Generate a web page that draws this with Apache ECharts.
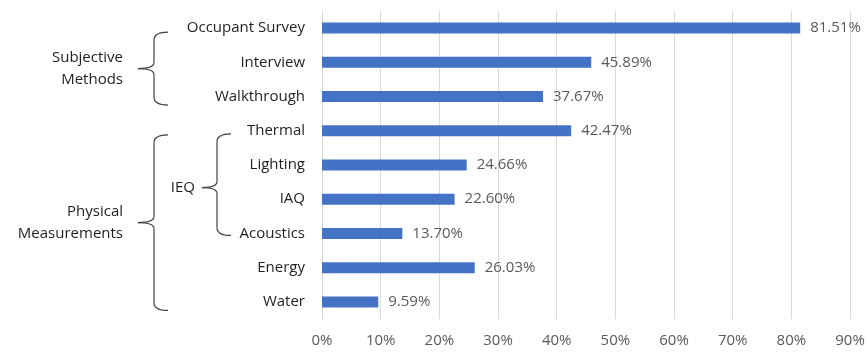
<!DOCTYPE html>
<html>
<head>
<meta charset="utf-8">
<script src="https://cdn.jsdelivr.net/npm/echarts@6/dist/echarts.min.js"></script>
<style>
html,body{margin:0;padding:0;background:#fff;}
#chart{width:868px;height:352px;}
</style>
</head>
<body>
<div id="chart"></div>
<script>
const categories = ["Occupant Survey", "Interview", "Walkthrough", "Thermal", "Lighting", "IAQ", "Acoustics", "Energy", "Water"];
const values = [81.51, 45.89, 37.67, 42.47, 24.66, 22.60, 13.70, 26.03, 9.59];
const xTicks = [0, 10, 20, 30, 40, 50, 60, 70, 80, 90];
const groups = [
  {label: "Subjective\nMethods", from: "Occupant Survey", to: "Walkthrough", level: 0},
  {label: "Physical\nMeasurements", from: "Thermal", to: "Water", level: 0},
  {label: "IEQ", from: "Thermal", to: "Acoustics", level: 1}
];

const FONT = "Open Sans";
const chart = echarts.init(document.getElementById('chart'));
chart.setOption({
  animation: false,
  backgroundColor: '#ffffff',
  grid: {left: 322, right: 18, top: 11, bottom: 33},
  xAxis: {
    type: 'value', min: xTicks[0], max: xTicks[xTicks.length - 1], interval: 10,
    axisLine: {show: false}, axisTick: {show: false},
    splitLine: {lineStyle: {color: '#d9d9d9', width: 1}},
    axisLabel: {formatter: '{value}%', color: '#595959', fontFamily: FONT, fontSize: 15, margin: 14}
  },
  yAxis: {
    type: 'category', data: categories, inverse: true,
    axisLine: {lineStyle: {color: '#d9d9d9'}}, axisTick: {show: false},
    axisLabel: {color: '#1f1f1f', fontFamily: FONT, fontSize: 15, margin: 17}
  },
  series: [{
    type: 'bar', data: values, barWidth: 11,
    itemStyle: {color: '#4472C4'},
    label: {show: true, position: 'right', distance: 10, formatter: p => p.value.toFixed(2) + '%',
      color: '#595959', fontFamily: FONT, fontSize: 15}
  }]
});

// brackets placed from the category axis positions
const els = [];
const st = {stroke: '#404040', lineWidth: 1.2, fill: null};
function curve(x1, y1, cx, cy, x2, y2) {
  els.push({type: 'bezierCurve', shape: {x1, y1, x2, y2, cpx1: cx, cpy1: cy}, style: st});
}
function seg(x1, y1, x2, y2) {
  els.push({type: 'line', shape: {x1, y1, x2, y2}, style: st});
}
groups.forEach(g => {
  const lv0 = g.level === 0;
  const y1 = chart.convertToPixel({yAxisIndex: 0}, g.from) + (lv0 ? 4 : 3);
  const y2 = chart.convertToPixel({yAxisIndex: 0}, g.to) + (lv0 ? 8.5 : 2);
  const mid = (y1 + y2) / 2 + (lv0 ? 0 : 3);
  const x = lv0 ? 154 : 217;
  const tip = lv0 ? 16 : 15;
  curve(x + 14, y1, x, y1, x, y1 + 8);
  seg(x, y1 + 8, x, mid - 6);
  curve(x, mid - 6, x, mid, x - tip, mid);
  curve(x - tip, mid, x, mid, x, mid + 6);
  seg(x, mid + 6, x, y2 - 8);
  curve(x, y2 - 8, x, y2, x + 14, y2);
  els.push({type: 'text', x: x - (lv0 ? 31 : 22), y: mid, style: {text: g.label, fill: '#1f1f1f', font: `15px "${FONT}"`, align: 'right', verticalAlign: 'middle', lineHeight: 22}});
});
chart.setOption({graphic: els});
</script>
</body>
</html>
